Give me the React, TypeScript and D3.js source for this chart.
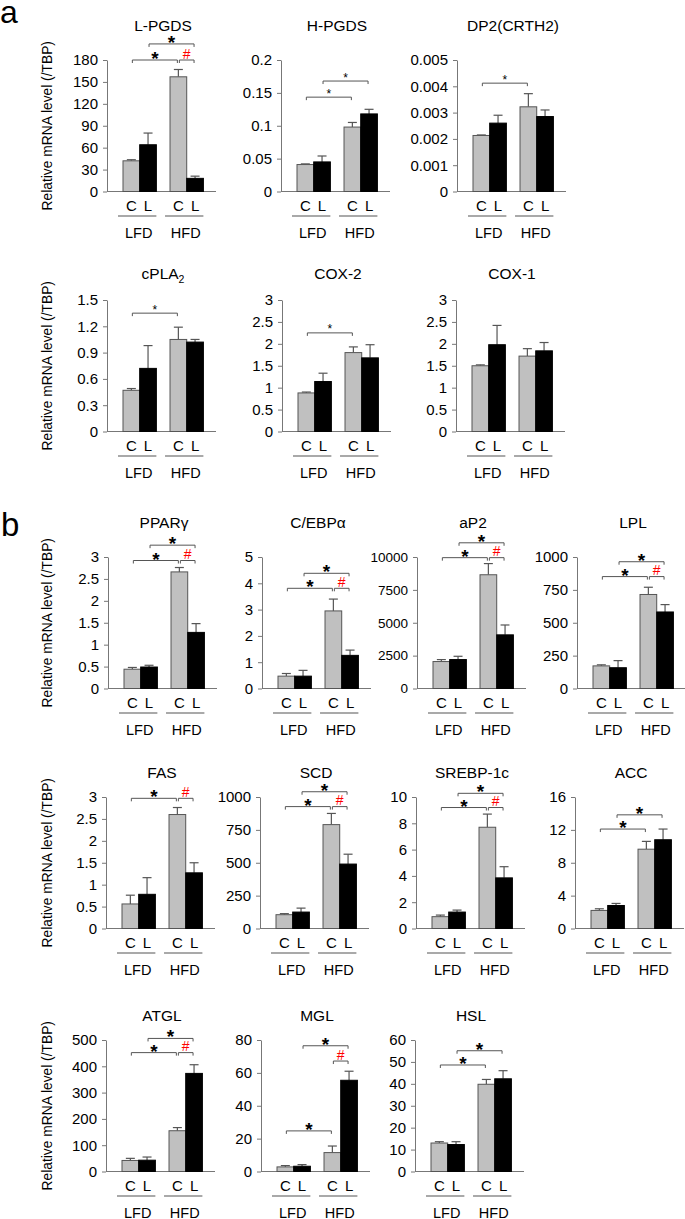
import React, { useRef, useEffect } from "react";
import * as d3 from "d3";

// genes, in the order they appear (panel a: 6, panel b: 11)
const genes = [
  "L-PGDS", "H-PGDS", "DP2(CRTH2)", "cPLA2", "COX-2", "COX-1",
  "PPARγ", "C/EBPα", "aP2", "LPL", "FAS", "SCD", "SREBP-1c", "ACC",
  "ATGL", "MGL", "HSL",
];
const groups = ["LFD", "HFD"];
const treatments = ["C", "L"];

// means
const lfdC = [42, 0.041, 0.00213, 0.47, 0.88, 1.5, 0.44, 0.47, 2050, 172, 0.56, 105, 0.9, 2.2, 42, 2.8, 13];
const lfdL = [64, 0.045, 0.0026, 0.72, 1.14, 1.98, 0.49, 0.47, 2200, 158, 0.78, 125, 1.25, 2.8, 43, 3.2, 12.3];
const hfdC = [157, 0.098, 0.00322, 1.05, 1.8, 1.72, 2.66, 2.95, 8650, 715, 2.6, 790, 7.7, 9.65, 155, 11.5, 39.8];
const hfdL = [18, 0.118, 0.00285, 1.02, 1.68, 1.84, 1.28, 1.26, 4080, 582, 1.27, 490, 3.85, 10.8, 373, 55.5, 42.3];
// error bars (upper only)
const lfdCErr = [1.5, 0.001, 0.00002, 0.02, 0.02, 0.02, 0.04, 0.1, 150, 8, 0.2, 8, 0.12, 0.2, 8, 0.8, 0.6];
const lfdLErr = [16, 0.009, 0.0003, 0.26, 0.19, 0.44, 0.04, 0.22, 250, 54, 0.38, 30, 0.15, 0.25, 12, 1, 1.3];
const hfdCErr = [10, 0.007, 0.0005, 0.14, 0.13, 0.17, 0.1, 0.45, 850, 55, 0.16, 85, 1.0, 0.95, 12, 4, 2.2];
const hfdLErr = [3, 0.007, 0.00025, 0.03, 0.3, 0.19, 0.2, 0.2, 750, 56, 0.23, 75, 0.85, 1.3, 33, 5.5, 3.7];

const yTicks = [
  [0, 30, 60, 90, 120, 150, 180],
  [0, 0.05, 0.1, 0.15, 0.2],
  [0, 0.001, 0.002, 0.003, 0.004, 0.005],
  [0, 0.3, 0.6, 0.9, 1.2, 1.5],
  [0, 0.5, 1, 1.5, 2, 2.5, 3],
  [0, 0.5, 1, 1.5, 2, 2.5, 3],
  [0, 0.5, 1, 1.5, 2, 2.5, 3],
  [0, 1, 2, 3, 4, 5],
  [0, 2500, 5000, 7500, 10000],
  [0, 250, 500, 750, 1000],
  [0, 0.5, 1, 1.5, 2, 2.5, 3],
  [0, 250, 500, 750, 1000],
  [0, 2, 4, 6, 8, 10],
  [0, 4, 8, 12, 16],
  [0, 100, 200, 300, 400, 500],
  [0, 20, 40, 60, 80],
  [0, 10, 20, 30, 40, 50, 60],
];

// significance brackets: [from bar, to bar, level, mark]; bars 0 LFD-C, 1 LFD-L, 2 HFD-C, 3 HFD-L
const brackets = [
  [[0, 2, 180, "*"], [1, 3, 202, "*"], [2, 3, 180, "#"]],
  [[0, 2, 0.1435, "*"], [1, 3, 0.168, "*"]],
  [[0, 2, 0.00412, "*"]],
  [[0, 2, 1.35, "*"]],
  [[0, 2, 2.25, "*"]],
  [],
  [[0, 2, 2.92, "*"], [1, 3, 3.27, "*"], [2, 3, 2.92, "#"]],
  [[0, 2, 3.81, "*"], [1, 3, 4.38, "*"], [2, 3, 3.81, "#"]],
  [[0, 2, 9950, "*"], [1, 3, 11080, "*"], [2, 3, 9950, "#"]],
  [[0, 2, 851, "*"], [1, 3, 964, "*"], [2, 3, 851, "#"]],
  [[0, 2, 2.97, "*"], [2, 3, 2.97, "#"]],
  [[0, 2, 927, "*"], [1, 3, 1040, "*"], [2, 3, 927, "#"]],
  [[0, 2, 9.2, "*"], [1, 3, 10.28, "*"], [2, 3, 9.2, "#"]],
  [[0, 2, 12.1, "*"], [1, 3, 13.83, "*"]],
  [[0, 2, 452, "*"], [1, 3, 506, "*"], [2, 3, 452, "#"]],
  [[0, 2, 24.7, "*"], [1, 3, 76.5, "*"], [2, 3, 67.2, "#"]],
  [[0, 2, 48.6, "*"], [1, 3, 55.1, "*"]],
];
const bigStar = [true, false, false, false, false, false, true, true, true, true, true, true, true, true, true, true, true];

// layout: axis x and row of each small chart
const axisX = [107, 281, 457, 107, 282, 456, 108, 262, 417, 577, 106, 260, 416, 575, 106, 261, 415];
const rowOf = [0, 0, 0, 1, 1, 1, 2, 2, 2, 2, 3, 3, 3, 3, 4, 4, 4];
const rowTop = [60, 300, 557, 797, 1040];
const rowTitle = [25, 273, 522, 772, 1015];
const plotH = 131.5;
const plotW = 109;
const font = "'Liberation Sans', Arial, sans-serif";
const axisColor = "#777";
const lineColor = "#555";

const App = () => {
  const ref = useRef(null);

  useEffect(() => {
    const svg = d3.select(ref.current);
    svg.selectAll("*").remove();
    svg.attr("font-family", font);

    svg.append("text").attr("x", 0).attr("y", 23).attr("font-size", 32).text("a");
    svg.append("text").attr("x", 1).attr("y", 536).attr("font-size", 33).text("b");

    genes.forEach((gene, i) => {
      const row = rowOf[i];
      const top = rowTop[row];
      const bottom = top + plotH;
      const ticks = yTicks[i];
      const g = svg.append("g").attr("transform", `translate(${axisX[i]},0)`);

      const y = d3.scaleLinear().domain([0, ticks[ticks.length - 1]]).range([bottom, top]);
      const gx = d3.scaleBand().domain(groups).range([16, 96.4]).paddingInner(0.29);
      const tx = d3.scaleBand().domain(treatments).range([0, gx.bandwidth()]);

      const bars = [
        { g: "LFD", t: "C", v: lfdC[i], e: lfdCErr[i] },
        { g: "LFD", t: "L", v: lfdL[i], e: lfdLErr[i] },
        { g: "HFD", t: "C", v: hfdC[i], e: hfdCErr[i] },
        { g: "HFD", t: "L", v: hfdL[i], e: hfdLErr[i] },
      ];
      const cx = (d) => gx(d.g) + tx(d.t) + tx.bandwidth() / 2;

      // y axis
      const axis = g
        .append("g")
        .call(
          d3.axisLeft(y).tickValues(ticks).tickSize(4).tickSizeOuter(0).tickPadding(5)
            .tickFormat((d) => String(d))
        );
      axis.attr("font-family", font).attr("font-size", i === 8 ? 13.5 : 15);
      axis.selectAll("path, line").attr("stroke", axisColor);
      axis.selectAll("text").attr("fill", "#000");

      // baseline
      g.append("line")
        .attr("x1", 0).attr("x2", plotW)
        .attr("y1", bottom).attr("y2", bottom)
        .attr("stroke", axisColor);

      // error bars
      const err = g.selectAll("g.err").data(bars).enter().append("g");
      err.append("line")
        .attr("x1", cx).attr("x2", cx)
        .attr("y1", (d) => y(d.v)).attr("y2", (d) => y(d.v + d.e))
        .attr("stroke", lineColor).attr("stroke-width", 1.2);
      err.append("line")
        .attr("x1", (d) => cx(d) - 4.5).attr("x2", (d) => cx(d) + 4.5)
        .attr("y1", (d) => y(d.v + d.e)).attr("y2", (d) => y(d.v + d.e))
        .attr("stroke", lineColor).attr("stroke-width", 1.2);

      // bars
      g.selectAll("rect.bar")
        .data(bars)
        .enter()
        .append("rect")
        .attr("x", (d) => gx(d.g) + tx(d.t))
        .attr("y", (d) => y(d.v))
        .attr("width", tx.bandwidth())
        .attr("height", (d) => bottom - y(d.v))
        .attr("fill", (d) => (d.t === "C" ? "#c0c0c0" : "#000"))
        .attr("stroke", (d) => (d.t === "C" ? lineColor : "#000"))
        .attr("stroke-width", 1);

      // x labels
      g.selectAll("text.tr")
        .data(bars)
        .enter()
        .append("text")
        .attr("x", cx)
        .attr("y", bottom + 19)
        .attr("text-anchor", "middle")
        .attr("font-size", 15)
        .text((d) => d.t);
      groups.forEach((grp) => {
        g.append("line")
          .attr("x1", gx(grp) - 5).attr("x2", gx(grp) + gx.bandwidth())
          .attr("y1", bottom + 24.5).attr("y2", bottom + 24.5)
          .attr("stroke", lineColor).attr("stroke-width", 1.2);
        g.append("text")
          .attr("x", gx(grp) + gx.bandwidth() / 2 - 1)
          .attr("y", bottom + 46)
          .attr("text-anchor", "middle")
          .attr("font-size", 14.5)
          .text(grp);
      });

      // title
      const title = g.append("text")
        .attr("x", 56)
        .attr("y", rowTitle[row] + 5.5)
        .attr("text-anchor", "middle")
        .attr("font-size", 15.5);
      if (gene === "cPLA2") {
        title.append("tspan").text("cPLA");
        title.append("tspan").attr("font-size", 10.5).attr("dy", 4).text("2");
      } else {
        title.text(gene);
      }

      // y label for first chart in each row
      if (axisX[i] < 110) {
        svg.append("text")
          .attr("transform", `translate(47,${(top + bottom) / 2}) rotate(-90)`)
          .attr("text-anchor", "middle")
          .attr("dominant-baseline", "central")
          .attr("font-size", 13.8)
          .text("Relative mRNA level (/TBP)");
      }

      // significance brackets
      brackets[i].forEach(([a, b, level, mark]) => {
        const xa = cx(bars[a]) + 1;
        const xb = cx(bars[b]) - 1;
        const ly = y(level);
        g.append("path")
          .attr("d", `M${xa},${ly + 3}V${ly}H${xb}V${ly + 3}`)
          .attr("fill", "none")
          .attr("stroke", lineColor)
          .attr("stroke-width", 1);
        const t = g.append("text")
          .attr("x", (xa + xb) / 2)
          .attr("text-anchor", "middle")
          .text(mark);
        if (mark === "#") {
          t.attr("y", ly - 1.5).attr("font-size", 14).attr("fill", "#f00");
        } else if (bigStar[i]) {
          t.attr("y", ly + 5).attr("font-size", 19).attr("font-weight", "bold");
        } else {
          t.attr("y", ly + 0.5).attr("font-size", 12);
        }
      });
    });
  }, []);

  return (
    <div>
      <svg
        ref={ref}
        width={685}
        height={1219}
        style={{ position: "absolute", left: 0, top: 0, background: "#fff" }}
      />
    </div>
  );
};

export default App;
